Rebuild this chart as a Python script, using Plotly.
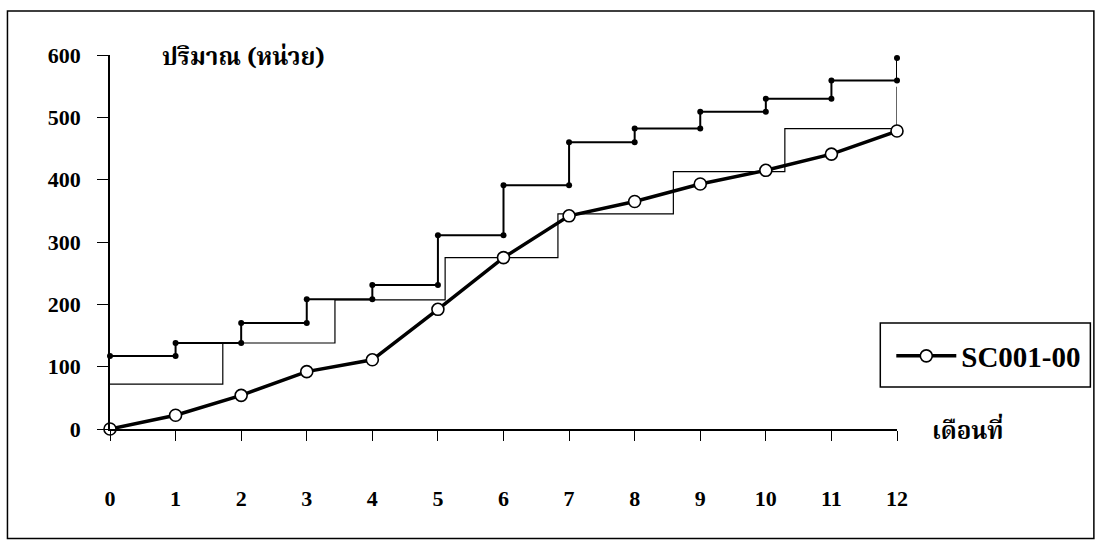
import plotly.graph_objects as go

# ---------------- data ----------------
months = list(range(13))
tick_labels = [str(m) for m in months]
sc001 = [0, 22, 54, 92, 111, 192, 275, 342, 365, 393, 415, 441, 478]

# upper stepped line (level reached at each month)
upper_levels = [117, 138, 170, 208, 231, 311, 391, 460, 482, 509, 530, 559, 595]

# lower stepped line (break positions in months and levels)
lower_x = [0, 1.72, 3.43, 5.11, 6.83, 8.59, 10.29, 12]
lower_levels = [72, 138, 207, 275, 345, 413, 482, 549]

y_ticks = [0, 100, 200, 300, 400, 500, 600]

# build the step points of the upper line (markers at both ends of each riser)
ux, uy = [], []
for i, m in enumerate(months):
    if i > 0:
        ux.append(m)
        uy.append(upper_levels[i - 1])
    ux.append(m)
    uy.append(upper_levels[i])

SERIF = "Liberation Serif, Times New Roman, serif"
THAI = "Noto Serif Thai, Liberation Serif, Noto Sans Thai, Loma, Garuda, Norasi, serif"

W, H = 1095, 540
PL, PR, PT, PB = 110, 896.7, 55, 429          # plot area in screen px
PW, PH = PR - PL, PB - PT


def px(sx):
    return (sx - PL) / PW


def py(sy):
    return (PB - sy) / PH


fig = go.Figure()

fig.add_trace(go.Scatter(
    x=lower_x, y=lower_levels, mode="lines", line_shape="hv",
    line=dict(color="black", width=1.2), showlegend=False, cliponaxis=False,
    hoverinfo="skip"))

fig.add_trace(go.Scatter(
    x=ux, y=uy, mode="lines+markers",
    line=dict(color="black", width=2),
    marker=dict(symbol="circle", size=6, color="black"),
    showlegend=False, cliponaxis=False, hoverinfo="skip"))

fig.add_trace(go.Scatter(
    x=months, y=sc001, mode="lines+markers", name="SC001-00",
    line=dict(color="black", width=3.5),
    marker=dict(symbol="circle", size=12, color="white",
                line=dict(color="black", width=1.6)),
    cliponaxis=False))

fig.update_layout(
    width=W, height=H,
    margin=dict(l=PL, r=W - PR, t=PT, b=H - PB, autoexpand=False),
    paper_bgcolor="white", plot_bgcolor="white",
    font=dict(family=SERIF, color="black", size=22),
    showlegend=True,
    legend=dict(
        x=px(891), y=py(356), xanchor="left", yanchor="middle",
        borderwidth=0, bgcolor="rgba(0,0,0,0)",
        font=dict(family=SERIF, size=29, color="black", weight="bold"),
        itemwidth=60,
    ),
    xaxis=dict(
        range=[0, 12], tickmode="array", tickvals=months, ticktext=tick_labels,
        showline=True, linecolor="black", linewidth=1.5,
        ticks="outside", ticklen=10, tickcolor="black", tickwidth=1.2,
        showgrid=False, zeroline=False, ticklabelstandoff=39,
        tickfont=dict(family=SERIF, size=22, color="black", weight="bold"),
    ),
    yaxis=dict(
        range=[0, 600], tickmode="array", tickvals=y_ticks,
        showline=True, linecolor="black", linewidth=1.5,
        ticks="outside", ticklen=11, tickcolor="black", tickwidth=1.2,
        showgrid=False, zeroline=False, ticklabelstandoff=12,
        tickfont=dict(family=SERIF, size=22, color="black", weight="bold"),
    ),
)

# axis titles
fig.add_annotation(text="<b>ปริมาณ (หน่วย)</b>", xref="paper", yref="paper",
                   x=px(160), y=py(58), xanchor="left", yanchor="middle",
                   showarrow=False, font=dict(family=THAI, size=24, color="black"))
fig.add_annotation(text="<b>เดือนที่</b>", xref="paper", yref="paper",
                   x=px(930), y=py(432), xanchor="left", yanchor="middle",
                   showarrow=False, font=dict(family=THAI, size=24, color="black"))

# legend box
fig.add_shape(type="rect", xref="paper", yref="paper",
              x0=px(880), x1=px(1090), y0=py(387), y1=py(323),
              line=dict(color="black", width=1.5), layer="below")

# outer frame
fig.add_shape(type="rect", xref="paper", yref="paper",
              x0=px(7.5), x1=px(1093.5), y0=py(538.5), y1=py(11),
              line=dict(color="black", width=1.5), layer="below")

fig.write_html("out.html",
               config={"displayModeBar": False},
               post_script="document.body.style.margin='0px';"
                           "document.body.style.overflow='hidden';")
